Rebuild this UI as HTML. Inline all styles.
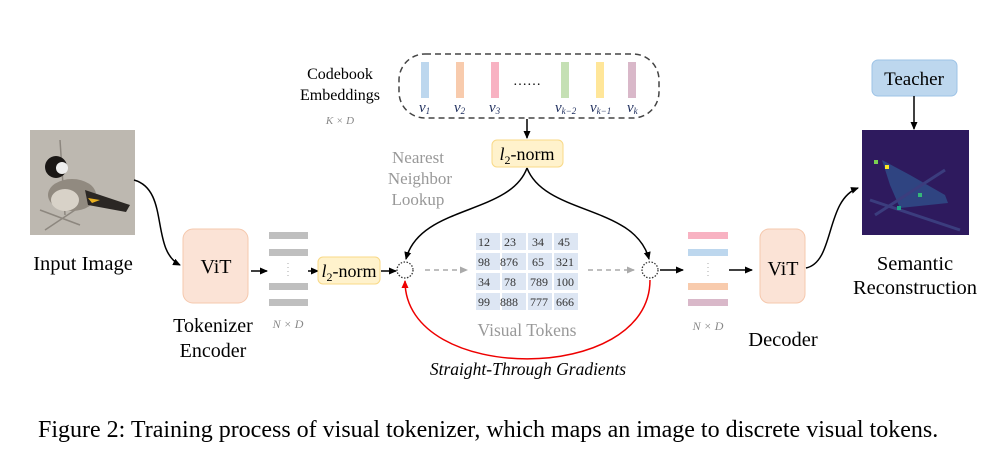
<!DOCTYPE html>
<html><head><meta charset="utf-8"><style>
body{margin:0;background:#fff;width:1002px;height:445px;overflow:hidden}
svg text{font-family:"Liberation Serif",serif}
</style></head><body>
<svg width="1002" height="445" viewBox="0 0 1002 445" xmlns="http://www.w3.org/2000/svg">
<defs>
<marker id="a" markerWidth="8" markerHeight="8" refX="7" refY="4" orient="auto" markerUnits="userSpaceOnUse"><path d="M0,0.5 L8,4 L0,7.5 Z" fill="#000"/></marker>
<marker id="g" markerWidth="8" markerHeight="8" refX="7" refY="4" orient="auto" markerUnits="userSpaceOnUse"><path d="M0,0.5 L8,4 L0,7.5 Z" fill="#aaa"/></marker>
<marker id="r" markerWidth="8" markerHeight="8" refX="7" refY="4" orient="auto" markerUnits="userSpaceOnUse"><path d="M0,0.5 L8,4 L0,7.5 Z" fill="#e00"/></marker>
</defs>
<!-- input image -->
<rect x="30" y="130" width="105" height="105" fill="#bdb8b0"/>
<path d="M40 210 L80 225 M45 230 L90 200 M60 140 L65 215" stroke="#8d877f" stroke-width="1.5" fill="none"/>
<ellipse cx="72" cy="195" rx="24" ry="16" fill="#918a80"/>
<ellipse cx="65" cy="200" rx="14" ry="11" fill="#d8d2c8"/>
<path d="M85 190 L130 205 L126 212 L88 205 Z" fill="#2b2724"/>
<circle cx="56" cy="167" r="11" fill="#1a1715"/>
<ellipse cx="62" cy="168" rx="6" ry="6" fill="#eee"/>
<path d="M88 198 L100 200 L92 203 Z" fill="#e8b020"/>
<text x="83" y="270" font-size="20.5" text-anchor="middle">Input Image</text>
<path d="M134 180 C170 190,150 250,180 265" stroke="#000" stroke-width="1.5" fill="none" marker-end="url(#a)"/>
<!-- encoder -->
<rect x="183" y="229" width="65" height="74" rx="10" fill="#fbe3d6" stroke="#f5c8ad"/>
<text x="216" y="273" font-size="20" text-anchor="middle">ViT</text>
<text x="213" y="332" font-size="20" text-anchor="middle">Tokenizer</text>
<text x="213" y="357" font-size="20" text-anchor="middle">Encoder</text>
<line x1="251" y1="271" x2="267" y2="271" stroke="#000" stroke-width="1.5" marker-end="url(#a)"/>
<g fill="#bfbfbf"><rect x="269" y="232" width="39" height="7"/><rect x="269" y="249" width="39" height="7"/><rect x="269" y="283" width="39" height="7"/><rect x="269" y="299" width="39" height="7"/></g>
<line x1="288" y1="263" x2="288" y2="278" stroke="#aaa" stroke-dasharray="1,3"/>
<text x="288" y="328" font-size="12" font-style="italic" fill="#888" text-anchor="middle" font-family="Liberation Sans,sans-serif">N × D</text>
<line x1="308" y1="271" x2="318" y2="271" stroke="#000" stroke-width="1.5" marker-end="url(#a)"/>
<rect x="318" y="257" width="62" height="27" rx="5" fill="#fff2cc" stroke="#f8d987"/>
<text x="349" y="277" font-size="18" text-anchor="middle"><tspan font-style="italic">l</tspan><tspan font-size="12" dy="4">2</tspan><tspan dy="-4">-norm</tspan></text>
<line x1="381" y1="271" x2="396" y2="271" stroke="#000" stroke-width="1.5" marker-end="url(#a)"/>
<circle cx="405" cy="270" r="8" fill="#fff" stroke="#333" stroke-width="1.3" stroke-dasharray="1.5,1.5"/>
<line x1="425" y1="270" x2="467" y2="270" stroke="#aaa" stroke-width="1.5" stroke-dasharray="5,4" marker-end="url(#g)"/>
<!-- table -->
<g font-size="12" fill="#333">
<g fill="#dde6f3">
<rect x="476" y="233" width="24" height="17"/><rect x="502" y="233" width="24" height="17"/><rect x="528" y="233" width="24" height="17"/><rect x="554" y="233" width="24" height="17"/>
<rect x="476" y="253" width="24" height="17"/><rect x="502" y="253" width="24" height="17"/><rect x="528" y="253" width="24" height="17"/><rect x="554" y="253" width="24" height="17"/>
<rect x="476" y="273" width="24" height="17"/><rect x="502" y="273" width="24" height="17"/><rect x="528" y="273" width="24" height="17"/><rect x="554" y="273" width="24" height="17"/>
<rect x="476" y="293" width="24" height="17"/><rect x="502" y="293" width="24" height="17"/><rect x="528" y="293" width="24" height="17"/><rect x="554" y="293" width="24" height="17"/>
</g>
<text x="478" y="246">12</text><text x="504" y="246">23</text><text x="532" y="246">34</text><text x="558" y="246">45</text>
<text x="478" y="266">98</text><text x="500" y="266">876</text><text x="532" y="266">65</text><text x="556" y="266">321</text>
<text x="478" y="286">34</text><text x="504" y="286">78</text><text x="530" y="286">789</text><text x="556" y="286">100</text>
<text x="478" y="306">99</text><text x="500" y="306">888</text><text x="530" y="306">777</text><text x="556" y="306">666</text>
</g>
<text x="527" y="336" font-size="17.5" fill="#999" text-anchor="middle">Visual Tokens</text>
<line x1="588" y1="270" x2="634" y2="270" stroke="#aaa" stroke-width="1.5" stroke-dasharray="5,4" marker-end="url(#g)"/>
<circle cx="650" cy="270" r="8" fill="#fff" stroke="#333" stroke-width="1.3" stroke-dasharray="1.5,1.5"/>
<line x1="660" y1="270" x2="683" y2="270" stroke="#000" stroke-width="1.5" marker-end="url(#a)"/>
<rect x="688" y="232" width="40" height="7" fill="#f8b2c2"/>
<rect x="688" y="249" width="40" height="7" fill="#bdd7ee"/>
<line x1="708" y1="263" x2="708" y2="278" stroke="#aaa" stroke-dasharray="1,3"/>
<rect x="688" y="283" width="40" height="7" fill="#f8cbad"/>
<rect x="688" y="299" width="40" height="7" fill="#d9b8c9"/>
<text x="708" y="330" font-size="12" font-style="italic" fill="#888" text-anchor="middle" font-family="Liberation Sans,sans-serif">N × D</text>
<line x1="729" y1="270" x2="752" y2="270" stroke="#000" stroke-width="1.5" marker-end="url(#a)"/>
<rect x="760" y="229" width="45" height="74" rx="9" fill="#fbe3d6" stroke="#f5c8ad"/>
<text x="783" y="275" font-size="20" text-anchor="middle">ViT</text>
<text x="783" y="346" font-size="20.5" text-anchor="middle">Decoder</text>
<path d="M806 268 C835 262,825 200,858 188" stroke="#000" stroke-width="1.5" fill="none" marker-end="url(#a)"/>
<!-- heatmap -->
<rect x="862" y="130" width="107" height="105" fill="#2e1a5e"/>
<path d="M882 160 L910 175 L945 195 L948 203 L900 208 L890 185 Z" fill="#2f4f8a" opacity="0.8"/>
<path d="M875 215 L945 170 M870 200 L960 230" stroke="#3b3d7e" stroke-width="3" fill="none"/>
<rect x="874" y="160" width="4" height="4" fill="#7ad151"/>
<rect x="885" y="165" width="4" height="4" fill="#fde725"/>
<rect x="918" y="193" width="4" height="4" fill="#35b779"/>
<rect x="897" y="206" width="4" height="4" fill="#1fa187"/>
<rect x="872" y="60" width="85" height="36" rx="6" fill="#bdd7ee" stroke="#9dc3e6"/>
<text x="914" y="85" font-size="19" text-anchor="middle">Teacher</text>
<line x1="914" y1="96" x2="914" y2="129" stroke="#000" stroke-width="1.5" marker-end="url(#a)"/>
<text x="915" y="270" font-size="20.5" text-anchor="middle">Semantic</text>
<text x="915" y="294" font-size="20.5" text-anchor="middle">Reconstruction</text>
<!-- codebook -->
<text x="340" y="79" font-size="16" text-anchor="middle">Codebook</text>
<text x="340" y="100" font-size="16" text-anchor="middle">Embeddings</text>
<text x="340" y="124" font-size="11" font-style="italic" fill="#888" text-anchor="middle" font-family="Liberation Sans,sans-serif">K × D</text>
<rect x="399" y="54" width="260" height="64" rx="26" fill="none" stroke="#444" stroke-width="1.5" stroke-dasharray="6,4"/>
<rect x="421" y="62" width="8" height="36" fill="#bdd7ee"/>
<rect x="456" y="62" width="8" height="36" fill="#f8cbad"/>
<rect x="491" y="62" width="8" height="36" fill="#f8b2c2"/>
<rect x="561" y="62" width="8" height="36" fill="#c5e0b4"/>
<rect x="596" y="62" width="8" height="36" fill="#ffe699"/>
<rect x="628" y="62" width="8" height="36" fill="#d9b8c9"/>
<text x="513" y="85" font-size="14">……</text>
<g font-size="15" font-style="italic" fill="#1a2a5a">
<text x="419" y="112">v<tspan font-size="9" dy="2">1</tspan></text>
<text x="454" y="112">v<tspan font-size="9" dy="2">2</tspan></text>
<text x="489" y="112">v<tspan font-size="9" dy="2">3</tspan></text>
<text x="555" y="112">v<tspan font-size="9" dy="2">k−2</tspan></text>
<text x="590" y="112">v<tspan font-size="9" dy="2">k−1</tspan></text>
<text x="627" y="112">v<tspan font-size="9" dy="2">k</tspan></text>
</g>
<line x1="527" y1="119" x2="527" y2="138" stroke="#000" stroke-width="1.5" marker-end="url(#a)"/>
<rect x="492" y="140" width="71" height="27" rx="5" fill="#fff2cc" stroke="#f8d987"/>
<text x="527" y="160" font-size="18" text-anchor="middle"><tspan font-style="italic">l</tspan><tspan font-size="12" dy="4">2</tspan><tspan dy="-4">-norm</tspan></text>
<text x="418" y="163" font-size="17" fill="#999" text-anchor="middle">Nearest</text>
<text x="420" y="184" font-size="17" fill="#999" text-anchor="middle">Neighbor</text>
<text x="418" y="205" font-size="17" fill="#999" text-anchor="middle">Lookup</text>
<path d="M527 168 C510 215,420 205,406 259" stroke="#000" stroke-width="1.5" fill="none" marker-end="url(#a)"/>
<path d="M527 168 C545 215,635 205,649 259" stroke="#000" stroke-width="1.5" fill="none" marker-end="url(#a)"/>
<path d="M650 280 C650 385,405 385,405 281" stroke="#e00" stroke-width="1.5" fill="none" marker-end="url(#r)"/>
<text x="528" y="375" font-size="17.5" font-style="italic" text-anchor="middle">Straight-Through Gradients</text>
<text x="38" y="437" font-size="24">Figure 2: Training process of visual tokenizer, which maps an image to discrete visual tokens.</text>
</svg>
</body></html>
